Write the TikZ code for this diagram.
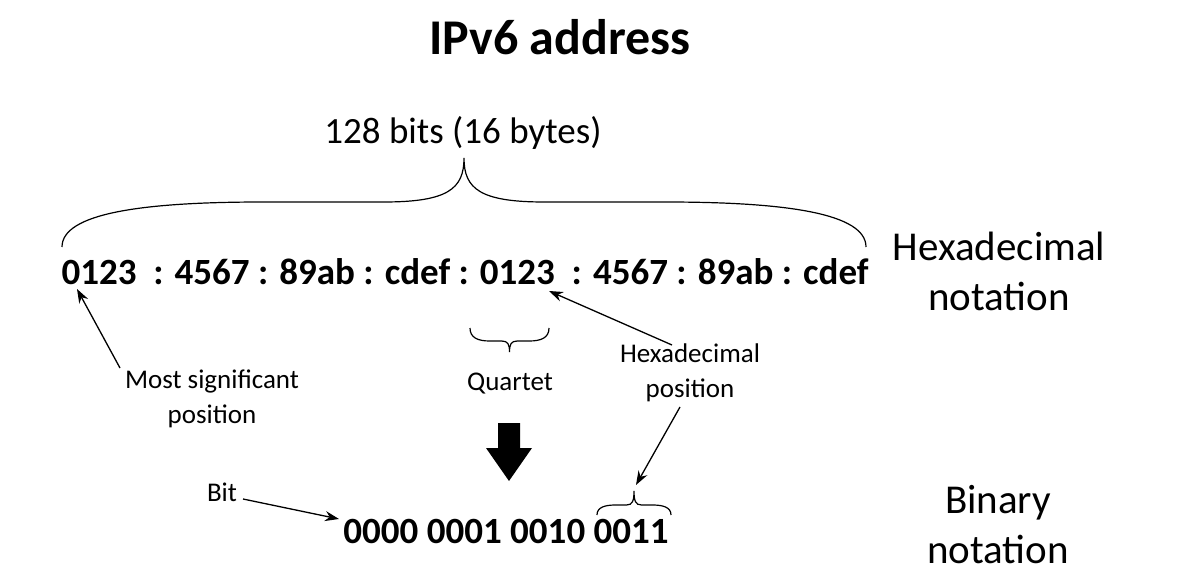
\documentclass[tikz,border=0pt]{standalone}
\usepackage{fontspec}
\setmainfont{Carlito}
\usetikzlibrary{arrows.meta}
\tikzset{
  heading/.style={font=\bfseries\fontsize{50}{60}\selectfont},
  big/.style={font=\fontsize{41}{50}\selectfont},
  small/.style={font=\fontsize{27}{35}\selectfont},
  row/.style={font=\bfseries\fontsize{37}{44}\selectfont},
  brace/.style={line width=1.2pt},
}
\newcommand{\lbl}[5]{\node[#4,align=center,inner sep=0pt] (#1) at (#2,#3) {#5};}
\newcommand{\pointer}[2]{\draw[line width=1.3pt,-{Stealth[length=14pt,width=10pt]}] (#1) -- (#2);}
\newcommand{\curly}[5]{\draw[brace] (#1,#3) .. controls (#1,{#3+0.75*(#4-#3)}) and ({#1+0.1*(#2-#1)},#4) .. ({#1+0.25*(#2-#1)},#4)
  -- ({(#1+#2)/2-0.1*(#2-#1)},#4) .. controls ({(#1+#2)/2-0.02*(#2-#1)},#4) and ({(#1+#2)/2},{#4+0.3*(#5-#4)}) .. ({(#1+#2)/2},#5)
  .. controls ({(#1+#2)/2},{#4+0.3*(#5-#4)}) and ({(#1+#2)/2+0.02*(#2-#1)},#4) .. ({(#1+#2)/2+0.1*(#2-#1)},#4)
  -- ({#2-0.25*(#2-#1)},#4) .. controls ({#2-0.1*(#2-#1)},#4) and (#2,{#3+0.75*(#4-#3)}) .. (#2,#3);}

\begin{document}
\begin{tikzpicture}[x=1pt,y=-1pt]
    \useasboundingbox (0,0) rectangle (1184,580);
    \lbl{title}{560}{37}{heading}{IPv6 address}
    \lbl{size}{463}{133}{big,font=\fontsize{37}{44}\selectfont}{128 bits (16 bytes)}
    \lbl{hex}{465}{272}{row}{0123~~: 4567 : 89ab : cdef : 0123~~: 4567 : 89ab : cdef}
    \lbl{hexname}{999}{271}{big}{Hexadecimal\\notation}
    \lbl{msp}{212}{399}{small}{Most significant\\position}
    \lbl{quartet}{510}{384}{small}{Quartet}
    \lbl{hexpos}{690}{373}{small}{Hexadecimal\\position}
    \lbl{bit}{222}{492}{small}{Bit}
    \lbl{bin}{506}{531}{row}{0000 0001 0010 0011}
    \lbl{binname}{998}{525}{big}{Binary\\notation}
    \curly{62}{866}{247}{202}{158}
    \curly{470}{549}{328}{341}{352}
    \curly{597}{671}{515}{505}{491}
    \coordinate (msd) at (77,289); \coordinate (msdtail) at (120,368);
    \coordinate (nib) at (549,291); \coordinate (nibtail) at (672,345);
    \coordinate (nibbin) at (636,485); \coordinate (nibbintail) at (680,407);
    \coordinate (onebit) at (339,519); \coordinate (onebittail) at (243,499);
    \pointer{msdtail}{msd}\pointer{nibtail}{nib}
    \pointer{nibbintail}{nibbin}\pointer{onebittail}{onebit}
    \fill (498,423) -- (520,423) -- (520,448) -- (532,448) -- (509,481) -- (486,448) -- (498,448) -- cycle;
\end{tikzpicture}
\end{document}
